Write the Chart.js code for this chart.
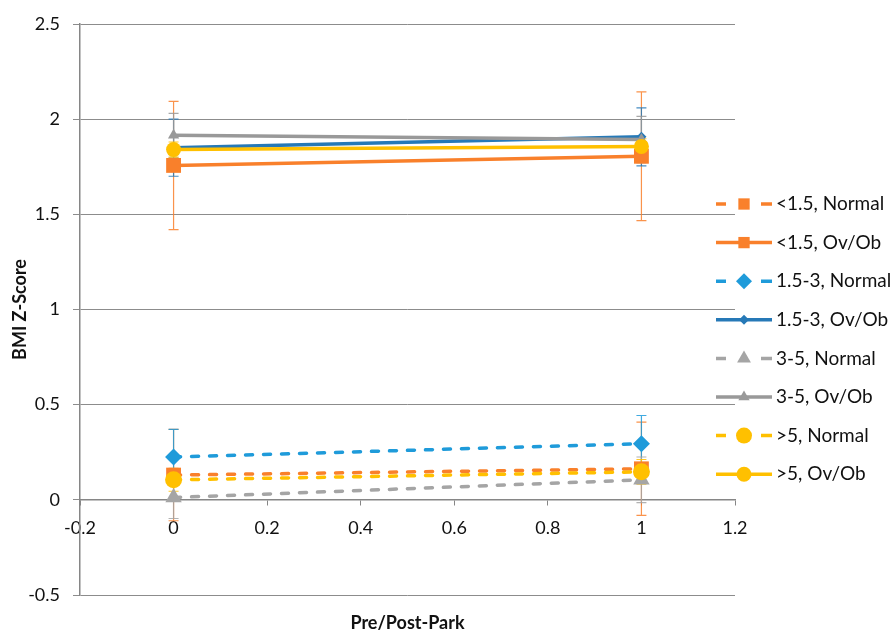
<!DOCTYPE html>
<html lang="en">
<head>
<meta charset="UTF-8" />
<title>BMI Z-Score Pre/Post-Park</title>
<script src="https://cdn.jsdelivr.net/npm/chart.js"></script>
<style>
  html, body { margin: 0; padding: 0; background: #fff; }
  #wrap { width: 895px; height: 635px; }
</style>
</head>
<body>
<div id="wrap"><canvas id="bmiChart"></canvas></div>
<script>
  // x positions: 0 = pre-park, 1 = post-park
  const xValues = [0, 1];

  const seriesLabels = [
    '<1.5, Normal', '<1.5, Ov/Ob',
    '1.5-3, Normal', '1.5-3, Ov/Ob',
    '3-5, Normal', '3-5, Ov/Ob',
    '>5, Normal', '>5, Ov/Ob'
  ];

  // mean BMI z-scores
  const lt15Normal = [0.13, 0.163];
  const lt15OvOb   = [1.757, 1.805];
  const r153Normal = [0.225, 0.295];
  const r153OvOb   = [1.85, 1.907];
  const r35Normal  = [0.012, 0.105];
  const r35OvOb    = [1.915, 1.893];
  const gt5Normal  = [0.105, 0.147];
  const gt5OvOb    = [1.84, 1.857];

  // error bar half-lengths
  const lt15NormalErr = [0.24, 0.245];
  const lt15OvObErr   = [0.337, 0.338];
  const r153NormalErr = [0.145, 0.148];
  const r153OvObErr   = [0.15, 0.152];
  const r35NormalErr  = [0.11, 0.12];
  const r35OvObErr    = [0.115, 0.122];
  const gt5NormalErr  = [0.06, 0.065];
  const gt5OvObErr    = [0.04, 0.04];

  const FONT = 'Lato, "Open Sans", sans-serif';

  // plain tick text: 2 instead of 2.0, 0 instead of -0.0
  function tickText(v) {
    const r = Math.round(v * 10) / 10;
    return String(r === 0 ? 0 : r);
  }

  function series(idx, values, errors, color, dashed, style, radius) {
    return {
      label: seriesLabels[idx],
      data: xValues.map((x, i) => ({ x, y: values[i] })),
      errors,
      dashed,
      borderColor: color,
      backgroundColor: color,
      borderWidth: 3.5,
      borderDash: dashed ? [7, 11] : [],
      borderCapStyle: dashed ? 'round' : 'butt',
      pointStyle: style,
      pointRadius: radius,
      pointHoverRadius: radius,
      pointBorderWidth: 0,
      showLine: true,
      fill: false,
      tension: 0,
      order: 7 - idx   // later series drawn on top, like the original
    };
  }

  const datasets = [
    series(0, lt15Normal, lt15NormalErr, '#F9802B', true,  'rect', 10.5),
    series(1, lt15OvOb,   lt15OvObErr,   '#F9802B', false, 'rect', 10.5),
    series(2, r153Normal, r153NormalErr, '#1F9BDA', true,  'rectRot', 8.5),
    series(3, r153OvOb,   r153OvObErr,   '#2679B7', false, 'rectRot', 5),
    series(4, r35Normal,  r35NormalErr,  '#A5A5A5', true,  'triangle', 9.5),
    series(5, r35OvOb,    r35OvObErr,    '#999999', false, 'triangle', 6.5),
    series(6, gt5Normal,  gt5NormalErr,  '#FFC000', true,  'circle', 8.5),
    series(7, gt5OvOb,    gt5OvObErr,    '#FFC000', false, 'circle', 7.5)
  ];

  // vertical error bars with caps, behind the markers
  const errorBars = {
    id: 'errorBars',
    beforeDatasetsDraw(chart) {
      const { ctx } = chart;
      const yScale = chart.scales.y;
      chart.data.datasets.forEach((ds, i) => {
        const meta = chart.getDatasetMeta(i);
        ctx.save();
        ctx.strokeStyle = ds.borderColor;
        ctx.globalAlpha = 0.85;
        ctx.lineWidth = 1.2;
        meta.data.forEach((pt, j) => {
          const v = ds.data[j].y, e = ds.errors[j];
          const top = yScale.getPixelForValue(v + e);
          const bot = yScale.getPixelForValue(v - e);
          ctx.beginPath();
          ctx.moveTo(pt.x, top); ctx.lineTo(pt.x, bot);
          ctx.moveTo(pt.x - 5, top); ctx.lineTo(pt.x + 5, top);
          ctx.moveTo(pt.x - 5, bot); ctx.lineTo(pt.x + 5, bot);
          ctx.stroke();
        });
        ctx.restore();
      });
    }
  };

  // legend on the right with line + marker symbols, and the x axis title
  const sideLegend = {
    id: 'sideLegend',
    afterDraw(chart) {
      const { ctx, chartArea } = chart;
      const x0 = chartArea.right - 19;
      const symW = 56;
      ctx.save();
      chart.data.datasets.forEach((ds, i) => {
        const y = chartArea.top + 180 + i * 38.6;
        ctx.strokeStyle = ds.borderColor;
        ctx.lineWidth = 3.5;
        ctx.beginPath();
        if (ds.dashed) {
          ctx.moveTo(x0, y); ctx.lineTo(x0 + 10, y);
          ctx.moveTo(x0 + symW - 11, y); ctx.lineTo(x0 + symW, y);
        } else {
          ctx.moveTo(x0, y); ctx.lineTo(x0 + symW, y);
        }
        ctx.stroke();
        ctx.fillStyle = ds.backgroundColor;
        Chart.helpers.drawPoint(ctx, {
          pointStyle: ds.pointStyle,
          radius: Math.min(ds.pointRadius, 8),
          rotation: 0,
          borderWidth: 0
        }, x0 + symW / 2, y);
        ctx.fillStyle = '#111';
        ctx.font = '19px ' + FONT;
        ctx.textAlign = 'left';
        ctx.textBaseline = 'middle';
        ctx.fillText(ds.label, x0 + symW + 4, y);
      });
      ctx.font = 'bold 18px ' + FONT;
      ctx.textAlign = 'center';
      ctx.textBaseline = 'middle';
      ctx.fillStyle = '#111';
      ctx.fillText('Pre/Post-Park', (chartArea.left + chartArea.right) / 2, chartArea.bottom + 28);
      ctx.restore();
    }
  };

  new Chart(document.getElementById('bmiChart'), {
    type: 'scatter',
    data: { datasets },
    options: {
      responsive: true,
      maintainAspectRatio: false,
      animation: false,
      layout: { padding: { top: 24, right: 160, bottom: 40, left: 0 } },
      plugins: {
        legend: { display: false },
        tooltip: { enabled: false }
      },
      scales: {
        x: {
          type: 'linear',
          position: { y: 0 },
          min: -0.2,
          max: 1.2,
          afterFit(scale) { scale.height = 0; },
          ticks: {
            stepSize: 0.2,
            padding: 13,
            color: '#111',
            font: { family: FONT, size: 18 },
            callback: tickText
          },
          grid: {
            drawOnChartArea: false,
            drawTicks: true,
            tickLength: 5,
            color: '#868686'
          },
          border: { display: true, color: '#868686', width: 1.5 }
        },
        y: {
          min: -0.5,
          max: 2.5,
          afterFit(scale) { scale.width = 80; },
          ticks: {
            stepSize: 0.5,
            padding: 13,
            color: '#111',
            font: { family: FONT, size: 18 },
            callback: tickText
          },
          grid: {
            color: '#8c8c8c',
            lineWidth: 1,
            tickLength: 7
          },
          border: { display: true, color: '#868686', width: 1.5 },
          title: {
            display: true,
            text: 'BMI Z-Score',
            color: '#111',
            font: { family: FONT, size: 18, weight: 'bold' },
            padding: { top: 9, bottom: 0 }
          }
        }
      }
    },
    plugins: [errorBars, sideLegend]
  });
</script>
</body>
</html>
